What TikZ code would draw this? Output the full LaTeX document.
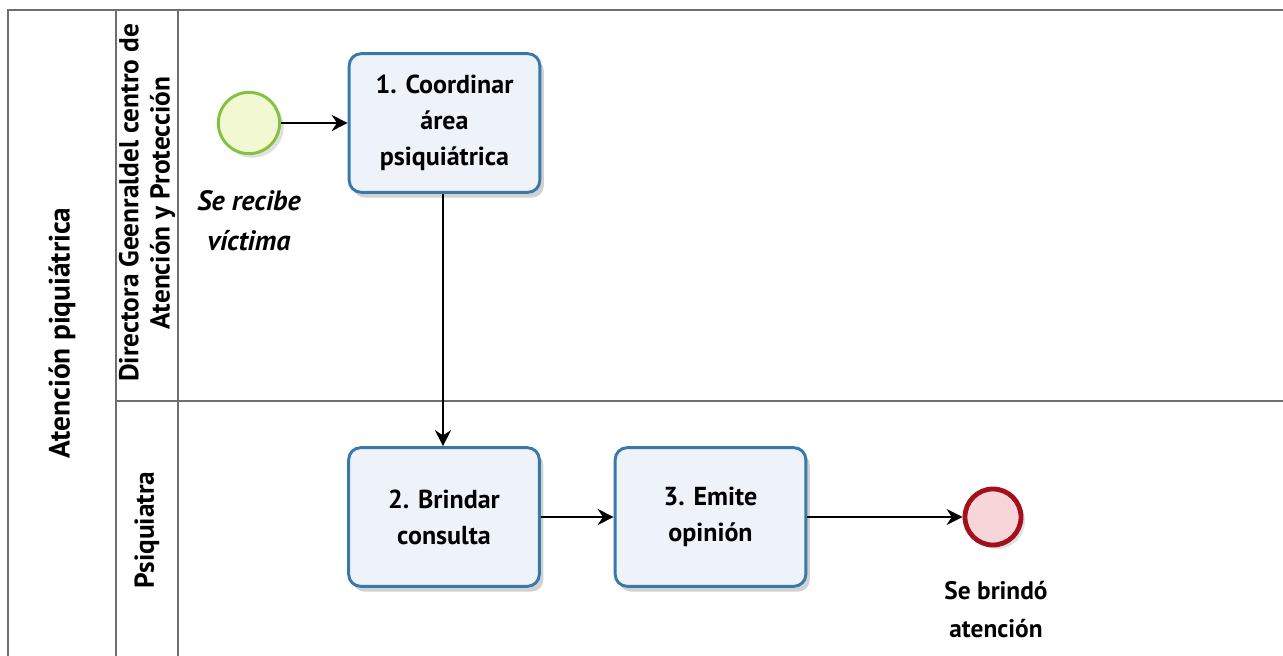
\documentclass[tikz,border=0pt]{standalone}
\usepackage{fontspec}
\setmainfont{PT Sans}
\usetikzlibrary{arrows.meta,shadows}
\definecolor{laneline}{HTML}{6E6E6E}
\definecolor{taskdraw}{HTML}{3A78A8}
\definecolor{taskfill}{HTML}{EEF3FA}
\definecolor{startdraw}{HTML}{86C040}
\definecolor{startfill}{HTML}{F1F8D2}
\definecolor{enddraw}{HTML}{A3101C}
\definecolor{endfill}{HTML}{F6D6D8}
\begin{document}
\begin{tikzpicture}[x=0.75pt,y=-0.75pt,
  lanestroke/.style={draw=laneline,line width=1.5pt},
  taskbox/.style={draw=taskdraw,fill=taskfill,line width=2.2pt,rounded corners=9pt,
    minimum width=143pt,minimum height=104pt,align=center,inner sep=0pt,
    font=\fontsize{19.5}{27}\selectfont\bfseries,
    drop shadow={shadow xshift=3pt,shadow yshift=-4pt,opacity=0.18,fill=black}},
  startev/.style={circle,draw=startdraw,fill=startfill,line width=2.2pt,minimum size=46pt,inner sep=0pt,
    drop shadow={shadow xshift=3pt,shadow yshift=-3pt,opacity=0.12,fill=black}},
  endev/.style={circle,draw=enddraw,fill=endfill,line width=3.6pt,minimum size=42pt,inner sep=0pt,
    drop shadow={shadow xshift=3pt,shadow yshift=-3pt,opacity=0.12,fill=black}},
  flow/.style={draw=black,line width=1.4pt,-{Stealth[length=12pt,width=12pt]}},
  headtext/.style={rotate=90,align=center,font=\fontsize{20.5}{23.5}\selectfont\bfseries}
]
\useasboundingbox (0,0) rectangle (1283,656);
\fill[white] (0,0) rectangle (1283,656);
% pool and lanes
\draw[lanestroke] (8,656) -- (8,10) -- (1283,10);
\draw[lanestroke] (116,10) -- (116,656);
\draw[lanestroke] (178,10) -- (178,656);
\draw[lanestroke] (116,401) -- (1283,401);
\node[headtext,font=\fontsize{22}{26}\selectfont\bfseries] (pool) at (62,333) {Atención piquiátrica};
\node[headtext] (lane1) at (147,203) {Directora Geenraldel centro de\\Atención y Protección};
\node[headtext] (lane2) at (147,530) {Psiquiatra};
% events and tasks
\node[startev] (start) at (249,123) {};
\node[align=center,font=\fontsize{21}{30}\selectfont\bfseries\itshape] (startlbl) at (249,221) {Se recibe\\víctima};
\node[taskbox] (t1) at (444.5,123) {1. Coordinar\\área\\psiquiátrica};
\node[taskbox] (t2) at (444,517) {2. Brindar\\consulta};
\node[taskbox] (t3) at (710.5,517) {3. Emite\\opinión};
\node[endev] (end) at (993,517) {};
\node[align=center,font=\fontsize{19}{28.5}\selectfont\bfseries] (endlbl) at (996,610) {Se brindó\\atención};
% flows
\draw[flow] (start) -- (t1);
\draw[flow] (t1.south -| 443,0) -- (t2.north -| 443,0);
\draw[flow] (t2) -- (t3);
\draw[flow] (t3) -- (end);
\end{tikzpicture}
\end{document}
